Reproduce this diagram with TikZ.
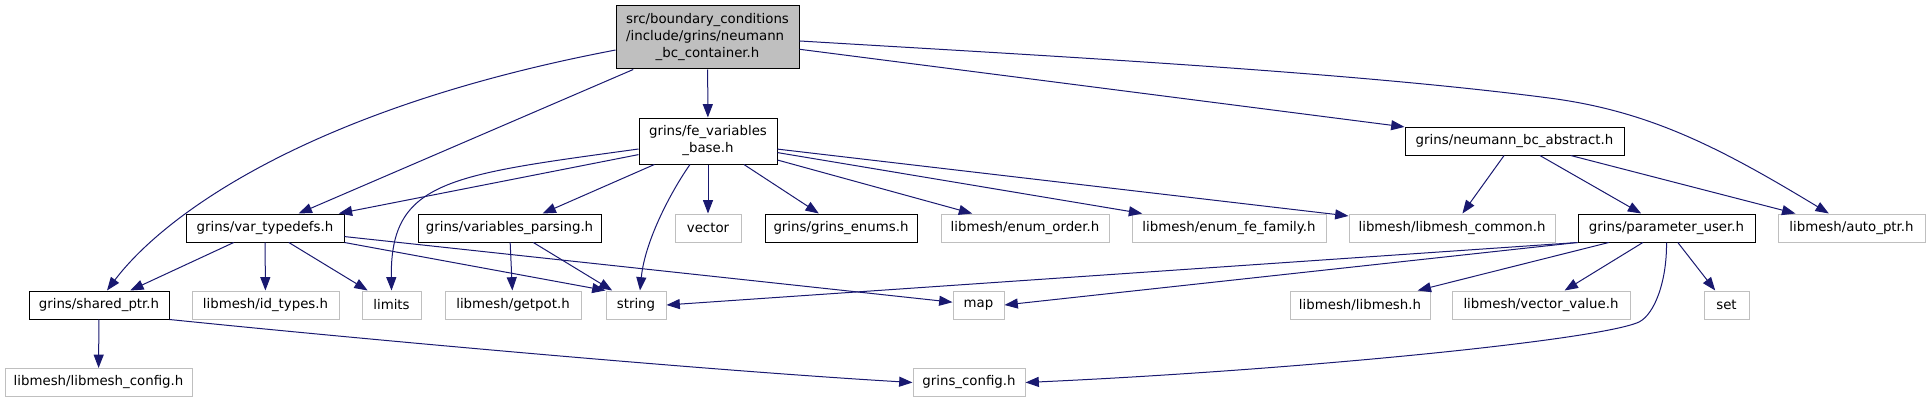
\documentclass[tikz,border=0pt]{standalone}
\usepackage{fontspec}
\setmainfont{DejaVu Sans}
\usetikzlibrary{arrows.meta}

\definecolor{edgeblue}{RGB}{25,25,112}
\definecolor{boxgrey}{RGB}{191,191,191}

\tikzset{
  hdr/.style={draw=black, line width=0.75pt, rectangle, inner sep=2pt, minimum height=21pt,
    font=\fontsize{10}{12.75}\selectfont},
  sys/.style={hdr, draw=boxgrey},
  wd/.style={minimum width=#1*0.75pt},
  dep/.style={draw=edgeblue, line width=0.75pt, -{Triangle[length=10pt,width=7.5pt]}},
}

\begin{document}
\begin{tikzpicture}[x=0.75pt, y=-0.75pt]
  \useasboundingbox (0,0) rectangle (1931,403);
  % headers of the project
  \node[hdr, fill=boxgrey, wd=183, minimum height=47.25pt] (container) at (707.5,37.5)
    {\begin{tabular}{@{}l@{}}src/boundary\_conditions\\/include/grins/neumann\\\multicolumn{1}{@{}c@{}}{\_bc\_container.h}\end{tabular}};
  \node[hdr, wd=138, minimum height=34.5pt, align=center] (fevars) at (708,141) {grins/fe\_variables\\\_base.h};
  \node[hdr, wd=219] (bcabstract) at (1514.5,141) {grins/neumann\_bc\_abstract.h};
  \node[hdr, wd=158] (typedefs) at (265,228) {grins/var\_typedefs.h};
  \node[hdr, wd=183] (parsing) at (509.5,228) {grins/variables\_parsing.h};
  \node[hdr, wd=152] (enums) at (841,228) {grins/grins\_enums.h};
  \node[hdr, wd=177] (paramuser) at (1666.5,228) {grins/parameter\_user.h};
  \node[hdr, wd=140] (sharedptr) at (99,305) {grins/shared\_ptr.h};
  % system and libmesh headers
  \node[sys, wd=66] (vector) at (708,228) {vector};
  \node[sys, wd=168] (enumorder) at (1025,228) {libmesh/enum\_order.h};
  \node[sys, wd=194] (enumfamily) at (1229,228) {libmesh/enum\_fe\_family.h};
  \node[sys, wd=206] (lmcommon) at (1452,228) {libmesh/libmesh\_common.h};
  \node[sys, wd=147] (autoptr) at (1851.5,228) {libmesh/auto\_ptr.h};
  \node[sys, wd=147] (idtypes) at (265.5,305) {libmesh/id\_types.h};
  \node[sys, wd=59] (limits) at (391.5,305) {limits};
  \node[sys, wd=136] (getpot) at (513,305) {libmesh/getpot.h};
  \node[sys, wd=60] (string) at (636,305) {string};
  \node[sys, wd=51] (map) at (978.5,305) {map};
  \node[sys, wd=140] (libmeshh) at (1360,305) {libmesh/libmesh.h};
  \node[sys, wd=178] (vecvalue) at (1541,305) {libmesh/vector\_value.h};
  \node[sys, wd=45] (set) at (1726.5,305) {set};
  \node[sys, wd=187] (lmconfig) at (98.5,382.5) {libmesh/libmesh\_config.h};
  \node[sys, wd=112] (grinsconfig) at (969,382.5) {grins\_config.h};
  % includes of the container
  \draw[dep] ([yshift=-9.4pt]container.west) .. controls (300,110) and (160,220) .. ([xshift=6pt]sharedptr.north);
  \draw[dep] (container) -- (typedefs);
  \draw[dep] (container) -- (fevars);
  \draw[dep] (container) -- (bcabstract);
  \draw[dep] ([yshift=-2.6pt]container.east) .. controls (1050,56) and (1350,72) .. (1549,98)
    .. controls (1649,111) and (1719,147) .. ([xshift=-17pt]autoptr.north);
  % includes of fe_variables_base
  \draw[dep] (fevars) -- (typedefs);
  \draw[dep] ([yshift=-6pt]fevars.west) .. controls (450,175) and (390,180) .. (limits.north);
  \draw[dep] (fevars) -- (parsing);
  \draw[dep] ([xshift=-13.5pt]fevars.south) .. controls (672,190) and (645,240) .. ([xshift=3pt]string.north);
  \draw[dep] (fevars) -- (vector);
  \draw[dep] (fevars) -- (enums);
  \draw[dep] (fevars) -- (enumorder);
  \draw[dep] (fevars) -- (enumfamily);
  \draw[dep] (fevars) -- (lmcommon);
  % includes of neumann_bc_abstract
  \draw[dep] (bcabstract) -- (lmcommon);
  \draw[dep] (bcabstract) -- (paramuser);
  \draw[dep] (bcabstract) -- (autoptr);
  % includes of var_typedefs
  \draw[dep] (typedefs) -- (sharedptr);
  \draw[dep] (typedefs) -- (idtypes);
  \draw[dep] (typedefs) -- (limits);
  \draw[dep] (typedefs.south east) -- (string.north west);
  \draw[dep] (typedefs) -- (map);
  % includes of variables_parsing
  \draw[dep] (parsing) -- (getpot);
  \draw[dep] (parsing) -- (string);
  % includes of parameter_user
  \draw[dep] (paramuser.south west) -- (string.east);
  \draw[dep] (paramuser.south west) -- (map.east);
  \draw[dep] (paramuser) -- (libmeshh);
  \draw[dep] (paramuser) -- (vecvalue);
  \draw[dep] (paramuser.south) .. controls (1667,280) and (1655,314) .. (1639,322)
    .. controls (1600,340) and (1300,370) .. (grinsconfig.east);
  \draw[dep] (paramuser) -- (set);
  % includes of shared_ptr
  \draw[dep] (sharedptr) -- (lmconfig);
  \draw[dep] (sharedptr.south east) .. controls (350,338) and (700,370) .. (grinsconfig.west);
\end{tikzpicture}
\end{document}
